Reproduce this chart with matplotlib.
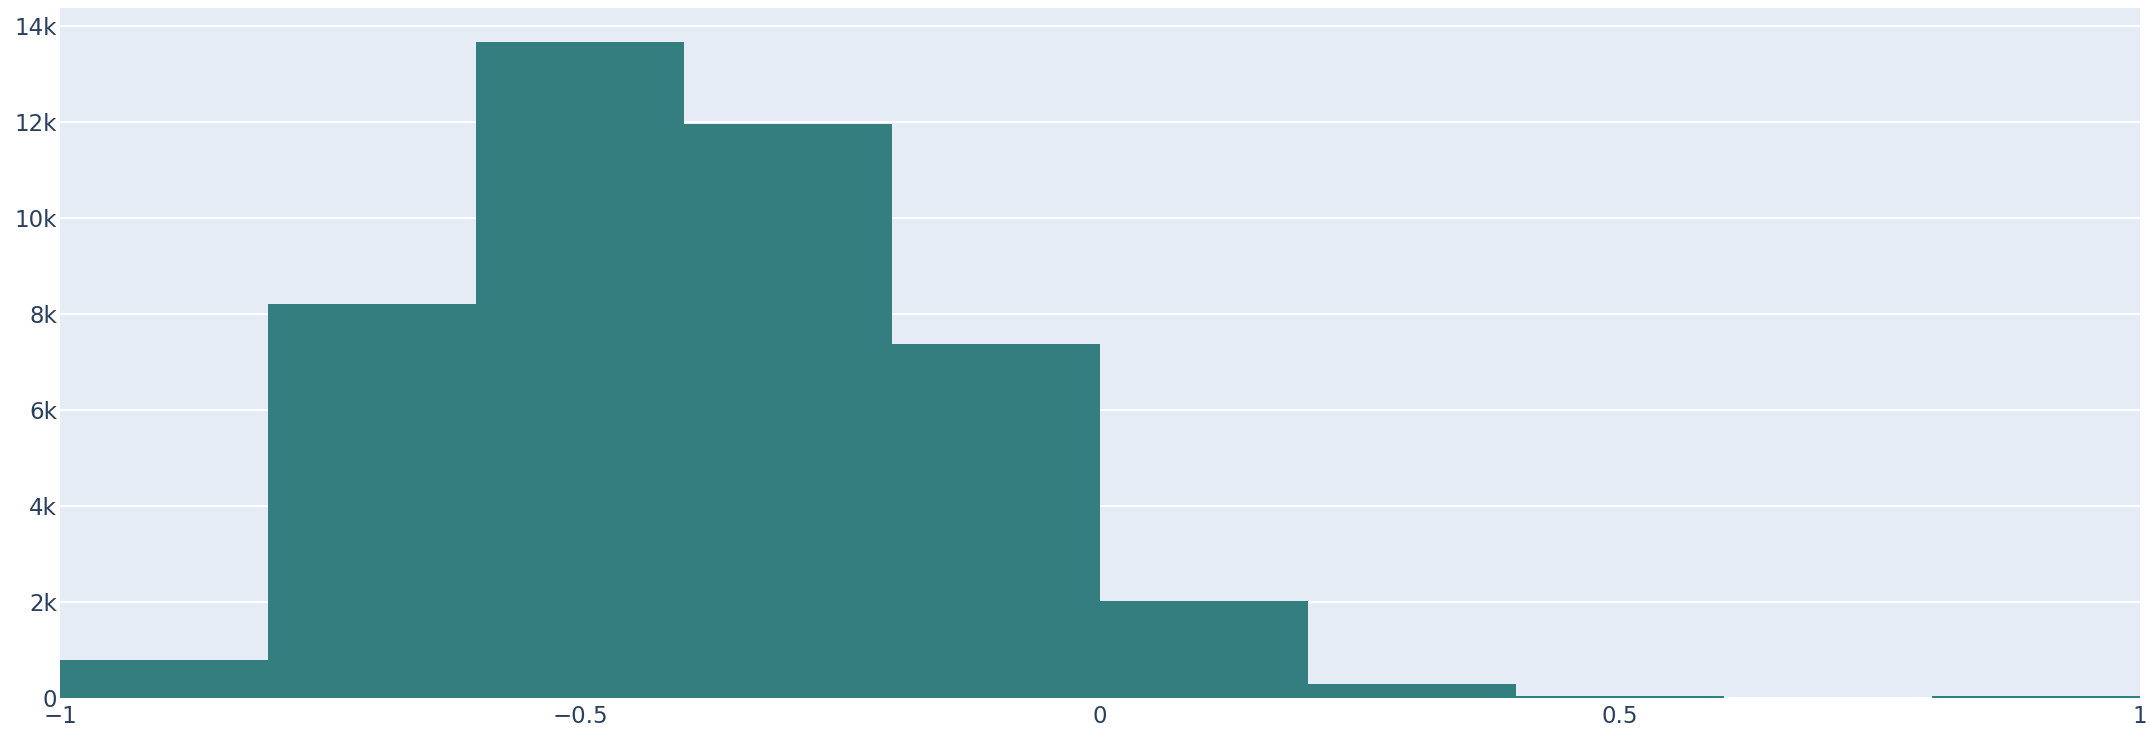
import numpy as np
import matplotlib
matplotlib.use("Agg")
import matplotlib.pyplot as plt
from matplotlib.ticker import FuncFormatter

# histogram bins
bin_edges = [-1.0, -0.8, -0.6, -0.4, -0.2, 0.0, 0.2, 0.4, 0.6, 0.8, 1.0]
counts = [790, 8200, 13660, 11950, 7370, 2005, 285, 35, 0, 35]

x_ticks = [-1, -0.5, 0, 0.5, 1]
y_ticks = [0, 2000, 4000, 6000, 8000, 10000, 12000, 14000]

BAR_COLOR = "#357e7f"
BG_COLOR = "#e5ecf6"
TEXT_COLOR = "#2a3f5f"

plt.rcParams['font.family'] = ['DejaVu Sans']

W, H = 2150, 736
fig = plt.figure(figsize=(W / 100, H / 100), dpi=100)
left, right, top, bottom = 60, 2140, 8, 697.7
ax = fig.add_axes([left / W, 1 - bottom / H, (right - left) / W, (bottom - top) / H])
ax.set_facecolor(BG_COLOR)

widths = np.diff(bin_edges)
ax.bar(bin_edges[:-1], counts, width=widths, align='edge', color=BAR_COLOR,
       linewidth=0, zorder=2)

ax.set_xlim(-1, 1)
ax.set_ylim(0, 14370)
ax.set_xticks(x_ticks)
ax.set_yticks(y_ticks)


def fmt_x(v, pos):
    if v == int(v):
        s = str(int(v))
    else:
        s = f"{v:g}"
    return s.replace("-", "\u2212")


def fmt_y(v, pos):
    if v == 0:
        return "0"
    return f"{int(v / 1000)}k"


ax.xaxis.set_major_formatter(FuncFormatter(fmt_x))
ax.yaxis.set_major_formatter(FuncFormatter(fmt_y))

ax.grid(axis='y', color='white', linewidth=1.5, zorder=1)
ax.set_axisbelow(True)
for sp in ax.spines.values():
    sp.set_visible(False)

ax.tick_params(axis='both', length=0, labelsize=16.5, colors=TEXT_COLOR)
ax.tick_params(axis='y', pad=2)
ax.tick_params(axis='x', pad=5)

fig.savefig("out.png", dpi=100, facecolor='white')
